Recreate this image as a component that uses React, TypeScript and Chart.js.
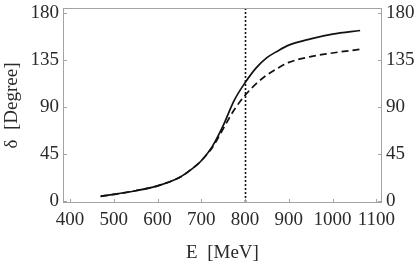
import { useEffect, useRef } from "react";
import { Chart, registerables } from "chart.js";

Chart.register(...registerables);

const energies = [470, 500, 550, 600, 650, 675, 700, 725, 750, 775, 800, 825, 850, 875, 900, 950, 1000, 1063];
const deltaSolid = [4.5, 6.3, 9.8, 14.5, 22.5, 29.5, 38.5, 52, 72, 96, 113, 127, 137, 143.5, 149, 155, 159.5, 163];
const deltaDashed = [4.5, 6.3, 9.8, 14.5, 22.5, 29.5, 38.5, 51, 69, 87, 101, 112, 120.5, 127, 132.5, 138, 141.5, 145];
const xTicks = [400, 500, 600, 700, 800, 900, 1000, 1100];
const yTicks = [0, 45, 90, 135, 180];
const markerEnergy = 800;
const xTitle = "E  [MeV]";
const yTitle = "δ  [Degree]";

const FONT = "'Liberation Serif', 'Times New Roman', serif";
const TEXT = "#2a2a2a";
const FRAME = "#a3a3a3";

export default function App() {
  const ref = useRef<HTMLCanvasElement>(null);
  useEffect(() => {
    if (!ref.current) return;
    const framePlugin = {
      id: "frame",
      afterDatasetsDraw(chart: any) {
        const { ctx, chartArea } = chart;
        const x = chart.scales.x;
        const px = Math.round(x.getPixelForValue(markerEnergy)) + 0.5;
        ctx.save();
        ctx.strokeStyle = "#111";
        ctx.lineWidth = 1.6;
        ctx.setLineDash([2, 2]);
        ctx.beginPath();
        ctx.moveTo(px, chartArea.top);
        ctx.lineTo(px, chartArea.bottom);
        ctx.stroke();
        ctx.restore();
      },
      afterDraw(chart: any) {
        const { ctx, chartArea } = chart;
        const { left, right, top, bottom } = chartArea;
        const x = chart.scales.x;
        const y = chart.scales.y;
        ctx.save();
        ctx.strokeStyle = FRAME;
        ctx.lineWidth = 1;
        ctx.strokeRect(left + 0.5, top + 0.5, right - left - 1, bottom - top - 1);
        ctx.beginPath();
        const len = 4;
        xTicks.forEach((v) => {
          const p = Math.round(x.getPixelForValue(v)) + 0.5;
          ctx.moveTo(p, bottom);
          ctx.lineTo(p, bottom - len);
        });
        yTicks.forEach((v) => {
          const p = Math.round(y.getPixelForValue(v)) + 0.5;
          ctx.moveTo(left, p);
          ctx.lineTo(left + len, p);
          ctx.moveTo(right, p);
          ctx.lineTo(right - len, p);
        });
        ctx.stroke();
        ctx.restore();
      },
    };

    const yScaleBase = (position: string, width: number) => ({
      type: "linear" as const,
      position,
      min: -1.9,
      max: 184.5,
      grid: { display: false, drawTicks: false },
      border: { display: false },
      afterBuildTicks: (s: any) => {
        s.ticks = yTicks.map((v) => ({ value: v }));
      },
      afterFit: (s: any) => {
        s.width = width;
        s.paddingTop = 0;
        s.paddingBottom = 0;
      },
      ticks: {
        padding: 4,
        color: TEXT,
        font: { family: FONT, size: 19, lineHeight: 1.2 },
        autoSkip: false,
        callback: (v: any) => String(v),
      },
    });

    const chart = new Chart(ref.current, {
      type: "line",
      data: {
        datasets: [
          {
            data: energies.map((e, i) => ({ x: e, y: deltaSolid[i] })),
            borderColor: "#111",
            borderWidth: 1.7,
            pointRadius: 0,
            cubicInterpolationMode: "monotone",
            fill: false,
          },
          {
            data: energies.map((e, i) => ({ x: e, y: deltaDashed[i] })),
            borderColor: "#111",
            borderWidth: 1.7,
            borderDash: [7, 4],
            pointRadius: 0,
            cubicInterpolationMode: "monotone",
            fill: false,
          },
        ],
      },
      options: {
        responsive: false,
        animation: false,
        layout: { padding: { top: 8, left: 0, right: 0, bottom: 0 } },
        plugins: { legend: { display: false }, tooltip: { enabled: false } },
        scales: {
          x: {
            type: "linear",
            position: "bottom",
            min: 384,
            max: 1113,
            grid: { display: false, drawTicks: false },
            border: { display: false },
            afterBuildTicks: (s: any) => {
              s.ticks = xTicks.map((v) => ({ value: v }));
            },
            afterFit: (s: any) => {
              s.height = 60;
              s.paddingLeft = 0;
              s.paddingRight = 0;
            },
            ticks: {
              padding: 6,
              color: TEXT,
              font: { family: FONT, size: 19, lineHeight: 1.2 },
              autoSkip: false,
              maxRotation: 0,
              minRotation: 0,
              callback: (v: any) => String(v),
            },
            title: {
              display: true,
              text: xTitle,
              color: TEXT,
              font: { family: FONT, size: 19, lineHeight: 1.0 },
              padding: { top: 0, bottom: 0 },
            },
          },
          y: {
            ...yScaleBase("left", 63),
            title: {
              display: true,
              text: yTitle,
              color: TEXT,
              font: { family: FONT, size: 19, lineHeight: 1.0 },
              padding: { top: 3, bottom: 0 },
            },
          } as any,
          y2: yScaleBase("right", 36) as any,
        },
      },
      plugins: [framePlugin],
    });
    return () => chart.destroy();
  }, []);

  return (
    <div style={{ position: "absolute", left: 0, top: 0, width: 418, height: 263, background: "#fff" }}>
      <canvas ref={ref} width={418} height={263} style={{ display: "block" }} />
    </div>
  );
}
